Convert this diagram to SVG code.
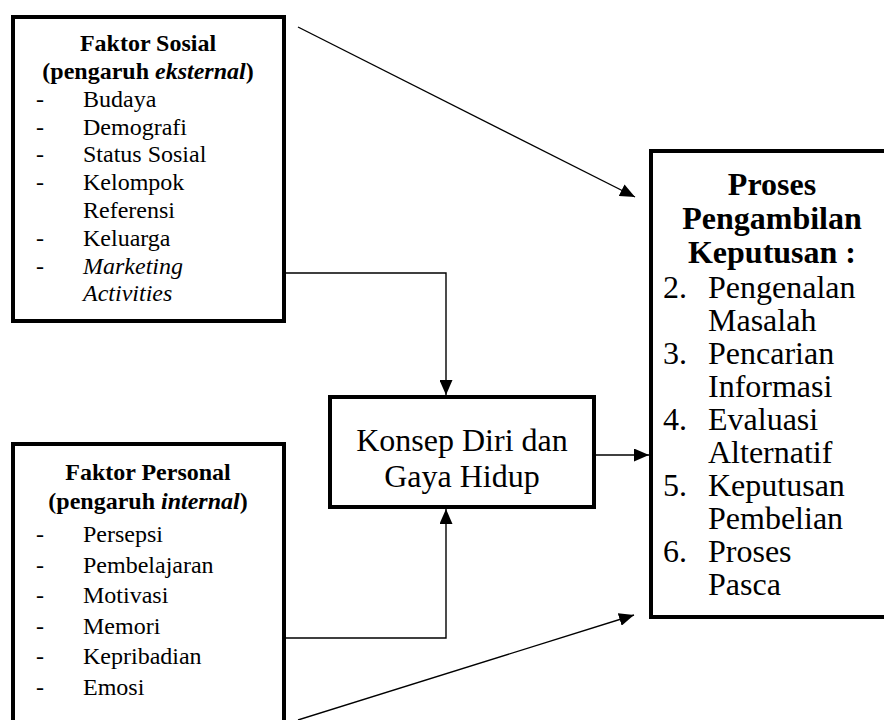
<svg xmlns="http://www.w3.org/2000/svg" width="884" height="720" viewBox="0 0 884 720">
<style>
.box{fill:#fff;stroke:#000;stroke-width:4}
.t{font-family:"Liberation Serif","DejaVu Serif",serif;fill:#000}
.l24{font-size:24px}
.b{font-weight:bold}
.i{font-style:italic}
.r32{font-size:32px}
.c{text-anchor:middle}
.con{fill:none;stroke:#000;stroke-width:1.4}
</style>
<defs>
<marker id="ah" viewBox="0 0 15 13" refX="15" refY="6.5" markerWidth="15" markerHeight="13" markerUnits="userSpaceOnUse" orient="auto">
<path d="M0,0 L15,6.5 L0,13 Z" fill="#000"/>
</marker>
</defs>
<rect width="884" height="720" fill="#fff"/>
<g id="faktor-sosial">
<rect class="box" x="13" y="17" width="271" height="304"/>
<text class="t l24 b c" x="148" y="51">Faktor Sosial</text>
<text class="t l24 b c" x="148" y="79">(pengaruh <tspan class="i">eksternal</tspan>)</text>
<g class="t l24">
<text x="36" y="107">-</text><text x="83" y="107">Budaya</text>
<text x="36" y="135">-</text><text x="83" y="135">Demografi</text>
<text x="36" y="162">-</text><text x="83" y="162">Status Sosial</text>
<text x="36" y="190">-</text><text x="83" y="190">Kelompok</text>
<text x="83" y="218">Referensi</text>
<text x="36" y="246">-</text><text x="83" y="246">Keluarga</text>
<text x="36" y="274">-</text><text class="i" x="83" y="274">Marketing</text>
<text class="i" x="83" y="301">Activities</text>
</g>
</g>
<g id="faktor-personal">
<rect class="box" x="13" y="444" width="271" height="300"/>
<text class="t l24 b c" x="148" y="480">Faktor Personal</text>
<text class="t l24 b c" x="148" y="509">(pengaruh <tspan class="i">internal</tspan>)</text>
<g class="t l24">
<text x="36" y="542">-</text><text x="83" y="542">Persepsi</text>
<text x="36" y="573">-</text><text x="83" y="573">Pembelajaran</text>
<text x="36" y="603">-</text><text x="83" y="603">Motivasi</text>
<text x="36" y="634">-</text><text x="83" y="634">Memori</text>
<text x="36" y="664">-</text><text x="83" y="664">Kepribadian</text>
<text x="36" y="695">-</text><text x="83" y="695">Emosi</text>
</g>
</g>
<g id="konsep-diri">
<rect class="box" x="330" y="397" width="264" height="110"/>
<text class="t r32 c" x="462" y="451">Konsep Diri dan</text>
<text class="t r32 c" x="462" y="487">Gaya Hidup</text>
</g>
<g id="proses">
<rect class="box" x="651" y="151" width="260" height="466"/>
<text class="t r32 b c" x="772" y="195">Proses</text>
<text class="t r32 b c" x="772" y="229">Pengambilan</text>
<text class="t r32 b c" x="772" y="263">Keputusan :</text>
<g class="t r32">
<text x="663" y="298">2.</text><text x="708" y="298">Pengenalan</text>
<text x="708" y="331">Masalah</text>
<text x="663" y="364">3.</text><text x="708" y="364">Pencarian</text>
<text x="708" y="397">Informasi</text>
<text x="663" y="430">4.</text><text x="708" y="430">Evaluasi</text>
<text x="708" y="463">Alternatif</text>
<text x="663" y="496">5.</text><text x="708" y="496">Keputusan</text>
<text x="708" y="529">Pembelian</text>
<text x="663" y="562">6.</text><text x="708" y="562">Proses</text>
<text x="708" y="595">Pasca</text>
</g>
</g>
<g id="connectors">
<path class="con" d="M284,273 H446 V395" marker-end="url(#ah)"/>
<path class="con" d="M284,638 H446 V509" marker-end="url(#ah)"/>
<path class="con" d="M596,455 H649" marker-end="url(#ah)"/>
<path class="con" d="M298,27 L635,197" marker-end="url(#ah)"/>
<path class="con" d="M298,720 L634,615" marker-end="url(#ah)"/>
</g>
</svg>
